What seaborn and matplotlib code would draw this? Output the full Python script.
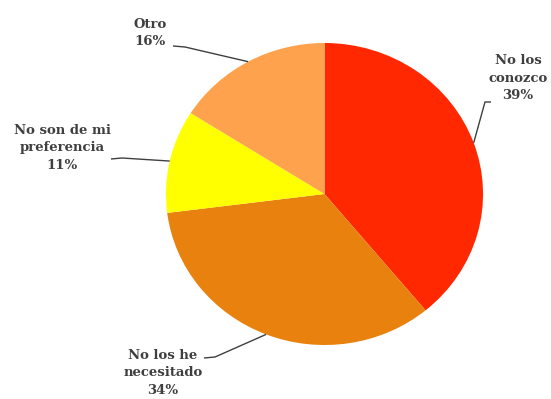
import matplotlib
matplotlib.use('Agg')
import matplotlib.pyplot as plt
import seaborn as sns
import numpy as np

categories = ['No los conozco', 'No los he necesitado', 'No son de mi preferencia', 'Otro']
values = [39, 34, 11, 16]
label_texts = ['No los\nconozco\n39%', 'No los he\nnecesitado\n34%',
               'No son de mi\npreferencia\n11%', 'Otro\n16%']
colors = ['#FF2800', '#E8810D', '#FFFF00', '#FFA24D']

sns.set_theme(style='white')
plt.rcParams['font.family'] = ['DejaVu Serif']

W, H = 551, 399
fig = plt.figure(figsize=(W / 100, H / 100), dpi=100)
ax = fig.add_axes([0, 0, 1, 1])
sx = 1.05
cx, cy, r = 324.5, H - 194, 151
wedges, _ = ax.pie(values, colors=colors, startangle=90, counterclock=False,
                   center=(cx / sx, cy), radius=r,
                   wedgeprops=dict(linewidth=0, antialiased=True))
ax.set_aspect('auto')
ax.set_xlim(0, W / sx)
ax.set_ylim(0, H)
ax.axis('off')

# label layout (pixel coords, top origin)
label_pos = [(518, 78), (163, 373), (62, 148), (150, 33)]
line_start = [(491, 102), (204, 358), (111, 159), (173, 46)]
line_elbow = [(485, 102), (215, 357), (122, 158), (185, 47)]

txt_color = '#3F3F3F'
for w, txt, lp, ls, le in zip(wedges, label_texts, label_pos, line_start, line_elbow):
    fig.text(lp[0] / W, 1 - lp[1] / H, txt, ha='center', va='center',
             multialignment='center', fontsize=9.5, fontweight='bold',
             color=txt_color, linespacing=1.45)
    th = np.deg2rad((w.theta1 + w.theta2) / 2)
    wx = cx / sx + r * np.cos(th)
    wy = cy + r * np.sin(th)
    xs = [ls[0] / sx, le[0] / sx, wx]
    ys = [H - ls[1], H - le[1], wy]
    ax.plot(xs, ys, color=txt_color, lw=1.0, clip_on=False, solid_capstyle='butt')

fig.savefig('out.png', dpi=100, facecolor='white')
